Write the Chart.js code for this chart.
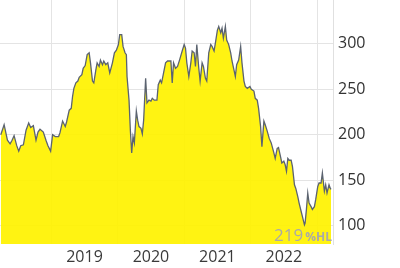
<!DOCTYPE html>
<html lang="en">
<head>
  <meta charset="UTF-8">
  <title>Kursverlauf</title>
  <script src="https://cdn.jsdelivr.net/npm/chart.js"></script>
  <style>
    html, body { margin: 0; padding: 0; background: #fff; }
    .chart-box { width: 400px; height: 268px; position: relative; }
  </style>
</head>
<body>
  <div class="chart-box"><canvas id="priceChart"></canvas></div>

  <script>
    // time as decimal years
    const dates = [
      2018.24, 2018.29, 2018.34, 2018.38, 2018.41, 2018.44, 2018.48, 2018.51, 2018.54, 2018.58,
      2018.62, 2018.66, 2018.69, 2018.73, 2018.77, 2018.80, 2018.83, 2018.88, 2018.92, 2018.95,
      2018.99, 2019.02, 2019.06, 2019.11, 2019.13, 2019.17, 2019.21, 2019.23, 2019.27, 2019.30,
      2019.32, 2019.34, 2019.37, 2019.40, 2019.42, 2019.46, 2019.48, 2019.51, 2019.54, 2019.57,
      2019.59, 2019.62, 2019.64, 2019.67, 2019.69, 2019.72, 2019.74, 2019.77, 2019.79, 2019.82,
      2019.85, 2019.88, 2019.92, 2019.95, 2019.98, 2020.01, 2020.03, 2020.06, 2020.08, 2020.11,
      2020.13, 2020.14, 2020.17, 2020.19, 2020.21, 2020.23, 2020.25, 2020.28, 2020.30, 2020.32,
      2020.35, 2020.37, 2020.39, 2020.42, 2020.44, 2020.47, 2020.50, 2020.52, 2020.55, 2020.59,
      2020.61, 2020.64, 2020.66, 2020.69, 2020.72, 2020.75, 2020.80, 2020.82, 2020.84, 2020.87,
      2020.90, 2020.93, 2020.97, 2021.00, 2021.02, 2021.04, 2021.07, 2021.10, 2021.12, 2021.15,
      2021.17, 2021.19, 2021.22, 2021.24, 2021.27, 2021.29, 2021.32, 2021.34, 2021.37, 2021.40,
      2021.42, 2021.45, 2021.47, 2021.50, 2021.52, 2021.55, 2021.57, 2021.59, 2021.62, 2021.64,
      2021.67, 2021.70, 2021.72, 2021.75, 2021.77, 2021.79, 2021.82, 2021.85, 2021.87, 2021.90,
      2021.92, 2021.95, 2021.99, 2022.01, 2022.05, 2022.07, 2022.10, 2022.12, 2022.15, 2022.17,
      2022.20, 2022.22, 2022.25, 2022.28, 2022.31, 2022.35, 2022.37, 2022.40, 2022.42, 2022.45,
      2022.47, 2022.50, 2022.52, 2022.54, 2022.56, 2022.58, 2022.61, 2022.63, 2022.66, 2022.68,
      2022.71, 2022.73, 2022.76, 2022.78, 2022.81, 2022.82, 2022.84, 2022.86, 2022.88, 2022.91,
      2022.93, 2022.96, 2022.98, 2023.01, 2023.03, 2023.06, 2023.08, 2023.11, 2023.13, 2023.15,
      2023.18, 2023.20, 2023.21
    ];
    const prices = [
      200, 211, 194, 190, 194, 199, 188, 182, 188, 189,
      205, 213, 208, 210, 194, 203, 206, 203, 194, 188,
      182, 200, 198, 198, 202, 215, 209, 214, 227, 229,
      242, 251, 257, 259, 263, 266, 273, 276, 288, 290,
      279, 259, 257, 271, 279, 275, 282, 277, 281, 277,
      279, 268, 279, 290, 293, 299, 310, 310, 297, 290,
      288, 264, 238, 205, 180, 198, 191, 226, 216, 209,
      207, 201, 216, 262, 235, 238, 237, 240, 238, 238,
      255, 260, 257, 268, 279, 281, 281, 257, 279, 273,
      275, 282, 292, 299, 295, 279, 264, 279, 292, 290,
      275, 299, 273, 259, 279, 275, 262, 259, 290, 299,
      297, 292, 301, 315, 319, 312, 317, 306, 319, 304,
      299, 290, 281, 271, 264, 277, 282, 297, 279, 259,
      253, 251, 253, 250, 248, 240, 238, 229, 209, 187,
      215, 211, 204, 196, 191, 180, 174, 185, 186, 176,
      169, 171, 167, 160, 174, 172, 172, 165, 145, 141,
      132, 125, 116, 110, 101, 103, 118, 136, 125, 121,
      118, 121, 129, 143, 147, 147, 158, 138, 145, 136,
      145, 141, 140
    ];
    const yTicks = [100, 150, 200, 250, 300];
    const yearTicks = [2019, 2019.5, 2020, 2020.5, 2021, 2021.5, 2022, 2022.5, 2023];
    const badgeValue = '219';
    const badgeUnit = '%HL';

    // small plugin for the grey watermark in the corner
    const badgePlugin = {
      id: 'badge',
      afterDatasetsDraw(chart) {
        const { ctx, chartArea } = chart;
        ctx.save();
        ctx.fillStyle = '#a9a9a9';
        ctx.textBaseline = 'alphabetic';
        ctx.font = 'bold 12px "Open Sans"';
        const unitW = ctx.measureText(badgeUnit).width;
        const right = chartArea.right - 1;
        const base = chartArea.bottom - 3;
        ctx.fillText(badgeUnit, right - unitW, base);
        ctx.font = '17px "Open Sans"';
        const valW = ctx.measureText(badgeValue).width;
        ctx.fillText(badgeValue, right - unitW - valW - 2, base);
        ctx.restore();
      }
    };

    const ctx = document.getElementById('priceChart').getContext('2d');
    new Chart(ctx, {
      type: 'line',
      data: {
        datasets: [{
          data: dates.map((d, i) => ({ x: d, y: prices[i] })),
          borderColor: '#5b6370',
          borderWidth: 1.3,
          backgroundColor: 'rgba(255, 242, 0, 0.93)',
          fill: 'start',
          pointRadius: 0,
          tension: 0
        }]
      },
      options: {
        responsive: true,
        maintainAspectRatio: false,
        animation: false,
        layout: { padding: 0 },
        plugins: {
          legend: { display: false },
          tooltip: { enabled: false }
        },
        scales: {
          x: {
            type: 'linear',
            min: 2018.228,
            max: 2023.24,
            afterBuildTicks: scale => { scale.ticks = yearTicks.map(v => ({ value: v })); },
            afterFit: scale => {
              scale.height = 24;
              scale.paddingLeft = 0;
              scale.paddingRight = 0;
            },
            grid: {
              color: c => Number.isInteger(c.tick && c.tick.value) ? '#e4e4e4' : 'rgba(0,0,0,0)',
              drawTicks: false
            },
            border: { display: false },
            ticks: {
              autoSkip: false,
              maxRotation: 0,
              padding: 4,
              color: '#3a3a3a',
              font: { family: 'Open Sans', size: 16 },
              callback: v => Number.isInteger(v) ? '' : String(Math.floor(v))
            }
          },
          y: {
            position: 'right',
            min: 80,
            max: 348,
            afterBuildTicks: scale => { scale.ticks = yTicks.map(v => ({ value: v })); },
            afterFit: scale => {
              scale.width = 67;
              scale.paddingTop = 0;
              scale.paddingBottom = 0;
            },
            grid: { color: '#e4e4e4', drawTicks: false },
            border: { display: true, color: '#e0e0e0' },
            ticks: {
              padding: 5,
              color: '#333',
              font: { family: 'Open Sans', size: 16 }
            }
          }
        }
      },
      plugins: [badgePlugin]
    });
  </script>
</body>
</html>
